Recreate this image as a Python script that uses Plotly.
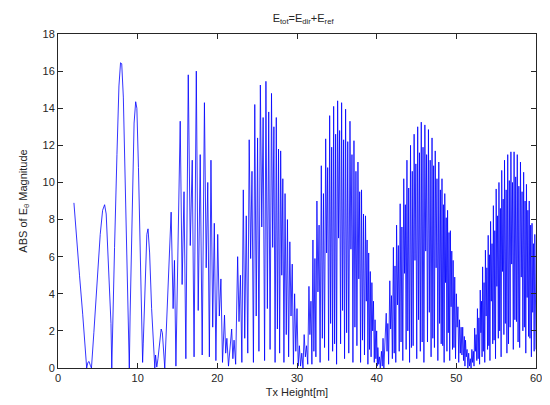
import plotly.graph_objects as go

# Lobe 1 (smooth region, 2 .. 13.4 m)
x_lobe1 = [2.0, 2.3, 2.7, 3.1, 3.4, 3.6, 3.75, 3.9, 4.05, 4.2, 4.5, 4.9, 5.3, 5.6, 5.85,
           6.05, 6.3, 6.5, 6.65, 6.75, 6.85, 7.1, 7.4, 7.65, 7.85, 8.0, 8.2, 8.45, 8.7,
           8.85, 8.95, 9.05, 9.3, 9.55, 9.75, 9.9, 10.1, 10.35, 10.55, 10.62, 10.7, 10.9,
           11.15, 11.3, 11.5, 11.75, 12.0, 12.15, 12.25, 12.4, 12.55, 12.75, 12.95, 13.1,
           13.25, 13.4]
y_lobe1 = [8.9, 7.0, 5.0, 2.9, 1.2, 0.0, 0.3, 0.35, 0.15, 0.0, 1.9, 4.8, 7.2, 8.5, 8.8,
           8.3, 6.0, 3.6, 2.4, 0.0, 2.4, 6.5, 11.5, 15.2, 16.45, 16.4, 14.6, 9.8, 4.0,
           0.5, 0.0, 2.8, 8.5, 13.2, 14.35, 14.0, 10.8, 5.5, 1.3, 0.3, 1.3, 4.5,
           7.2, 7.5, 6.2, 3.2, 0.6, 0.0, 0.7, 0.05, 0.5, 1.4, 2.1, 1.9,
           0.9, 0.0]

# Lobe 2
x_lobe2 = [14.2, 14.45, 14.62, 14.8, 15.34, 15.58, 15.82, 16.05, 16.35, 16.6, 16.85, 17.08,
           17.36, 17.6, 17.85, 18.1, 18.38, 18.6, 18.8, 19.0, 19.2, 19.42, 19.62, 19.82,
           20.05, 20.25, 20.45, 20.65, 20.9, 21.05, 21.2, 21.4, 21.8, 21.95, 22.1, 22.3]
y_lobe2 = [8.4, 3.2, 5.8, 0.1, 13.3, 4.5, 9.5, 0.5, 15.8, 6.6, 11.2, 0.6,
           16.0, 3.1, 11.5, 0.7, 14.3, 5.4, 10.0, 0.6, 11.2, 2.2, 7.8, 0.4,
           7.2, 2.8, 4.8, 0.3, 2.85, 0.8, 1.6, 0.1, 2.1, 0.5, 1.5, 0.2]

# Lobe 3
x_lobe3 = [22.55, 22.72, 22.9, 23.08, 23.26, 23.44, 23.63, 23.82, 24.0, 24.18, 24.35, 24.53,
           24.7, 24.88, 25.05, 25.22, 25.4, 25.58, 25.75, 25.93, 26.1, 26.28, 26.45, 26.62,
           26.8, 26.95, 27.1, 27.25, 27.4, 27.54, 27.68, 27.82, 27.95, 28.09, 28.22, 28.36,
           28.5, 28.65, 28.8, 28.95, 29.1, 29.25, 29.4, 29.55, 29.7, 29.85, 30.0, 30.15,
           30.3, 30.45, 30.6, 30.75, 30.9, 31.05, 31.2, 31.35]
y_lobe3 = [6.0, 2.5, 5.0, 0.3, 9.6, 1.6, 8.2, 0.8, 12.3, 5.9, 10.6, 0.3,
           14.2, 2.8, 12.4, 0.9, 15.25, 7.6, 13.5, 0.4, 15.45, 3.2, 13.8, 1.0,
           14.8, 6.5, 13.0, 0.3, 13.5, 2.1, 11.8, 0.8, 11.7, 5.0, 10.2, 0.3,
           9.4, 1.8, 8.0, 0.6, 6.8, 2.8, 5.6, 0.2, 4.0, 0.9, 3.2, 0.1,
           1.2, 0.1, 0.8, 0.0, 1.8, 0.6, 1.2, 0.2]

# Lobe 4
x_lobe4 = [31.5, 31.62, 31.75, 31.87, 32.0, 32.12, 32.25, 32.37, 32.5, 32.63, 32.77, 32.9,
           33.05, 33.18, 33.32, 33.46, 33.6, 33.72, 33.85, 33.97, 34.1, 34.22, 34.35, 34.47,
           34.6, 34.72, 34.85, 34.97, 35.1, 35.22, 35.35, 35.47, 35.6, 35.72, 35.85, 35.97,
           36.1, 36.23, 36.37, 36.5, 36.65, 36.77, 36.9, 37.02, 37.15, 37.27, 37.4, 37.52,
           37.65, 37.76, 37.87, 37.98, 38.1, 38.22, 38.35, 38.47, 38.6, 38.7, 38.8, 38.9,
           39.0, 39.1, 39.2, 39.3, 39.4, 39.5, 39.6, 39.7, 39.8, 39.9, 40.0, 40.08,
           40.15, 40.25, 40.35, 40.45, 40.6, 40.7, 40.8, 40.9]
y_lobe4 = [4.4, 1.8, 3.6, 0.2, 6.9, 0.9, 5.9, 0.6, 9.0, 4.1, 7.7, 0.3,
           10.9, 1.6, 9.4, 1.1, 12.35, 6.2, 10.8, 0.4, 13.6, 2.4, 11.9, 0.9,
           14.1, 1.3, 12.6, 0.2, 14.4, 7.0, 12.8, 1.3, 14.3, 3.1, 12.3, 0.5,
           13.95, 1.9, 12.2, 0.8, 13.3, 6.4, 11.5, 0.3, 12.25, 2.2, 10.6, 1.2,
           11.1, 4.8, 9.5, 0.3, 9.6, 1.5, 8.3, 0.7, 8.2, 3.6, 6.9, 0.2,
           6.2, 1.0, 5.2, 0.6, 4.6, 2.0, 3.6, 0.3, 2.6, 0.5, 2.0, 0.1,
           1.1, 0.2, 0.6, 0.0, 0.9, 0.1, 1.6, 0.0]

# Lobe 5
x_lobe5 = [41.2, 41.3, 41.4, 41.5, 41.65, 41.75, 41.86, 41.97, 42.1, 42.2, 42.3, 42.4,
           42.5, 42.61, 42.72, 42.83, 42.95, 43.06, 43.17, 43.28, 43.4, 43.5, 43.6, 43.7,
           43.8, 43.91, 44.02, 44.13, 44.25, 44.36, 44.47, 44.58, 44.7, 44.81, 44.92, 45.03,
           45.15, 45.26, 45.37, 45.48, 45.6, 45.71, 45.82, 45.93, 46.05, 46.16, 46.27, 46.38,
           46.5, 46.61, 46.72, 46.83, 46.95, 47.05, 47.15, 47.25, 47.35, 47.46, 47.57, 47.68,
           47.8, 47.9, 48.0, 48.1, 48.2, 48.29, 48.38, 48.47, 48.55, 48.64, 48.73, 48.82,
           48.9, 48.99, 49.08, 49.17, 49.25, 49.34, 49.43, 49.52, 49.6, 49.7, 49.8, 49.9,
           50.0, 50.1, 50.2, 50.3, 50.4, 50.5, 50.6, 50.7, 50.8, 50.9, 51.0, 51.08,
           51.15, 51.25, 51.35, 51.45, 51.55, 51.65, 51.75, 51.85]
y_lobe5 = [2.95, 0.9, 2.4, 0.2, 4.7, 2.1, 3.9, 0.5, 6.5, 0.8, 5.5, 0.3,
           7.7, 3.4, 6.6, 0.9, 8.85, 1.4, 7.6, 0.4, 10.2, 5.1, 8.8, 1.0,
           11.2, 2.0, 9.7, 0.3, 12.0, 1.1, 10.6, 1.2, 12.6, 5.8, 11.0, 0.5,
           13.0, 2.6, 11.6, 0.9, 13.25, 1.4, 11.9, 0.3, 13.1, 6.3, 11.5, 1.4,
           12.85, 3.0, 11.2, 0.6, 12.4, 1.6, 10.9, 1.1, 11.7, 5.4, 10.2, 0.4,
           11.1, 2.4, 9.6, 1.3, 10.2, 1.2, 8.8, 0.3, 9.4, 4.6, 8.1, 0.9,
           8.5, 1.9, 7.3, 0.4, 7.4, 3.3, 6.3, 1.0, 5.8, 1.1, 4.9, 0.5,
           4.0, 2.2, 3.3, 0.3, 2.6, 0.8, 2.2, 0.7, 2.2, 0.4, 1.7, 0.1,
           1.5, 0.6, 1.0, 0.0, 0.8, 0.1, 0.5, 0.0]

# Lobe 6
x_lobe6 = [51.95, 52.04, 52.13, 52.22, 52.3, 52.39, 52.48, 52.57, 52.65, 52.74, 52.83, 52.92,
           53.0, 53.08, 53.16, 53.23, 53.3, 53.39, 53.48, 53.57, 53.65, 53.74, 53.83, 53.92,
           54.0, 54.08, 54.15, 54.22, 54.3, 54.39, 54.48, 54.57, 54.65, 54.74, 54.83, 54.92,
           55.0, 55.09, 55.18, 55.27, 55.35, 55.44, 55.53, 55.62, 55.7, 55.79, 55.88, 55.97,
           56.05, 56.15, 56.25, 56.35, 56.45, 56.55, 56.65, 56.75, 56.85, 56.95, 57.05, 57.15,
           57.25, 57.35, 57.45, 57.55, 57.65, 57.75, 57.85, 57.95, 58.05, 58.15, 58.25, 58.35,
           58.45, 58.54, 58.63, 58.72, 58.8, 58.89, 58.98, 59.07, 59.15, 59.24, 59.33, 59.42,
           59.5, 59.59, 59.68, 59.77, 59.85, 60.0]
y_lobe6 = [1.0, 0.3, 0.9, 0.1, 2.15, 0.9, 1.8, 0.4, 3.2, 0.5, 2.7, 0.2,
           4.2, 1.9, 3.6, 0.6, 5.45, 0.9, 4.6, 0.3, 6.35, 2.8, 5.4, 1.0,
           7.15, 1.2, 6.1, 0.4, 7.9, 3.6, 6.7, 1.3, 8.75, 1.5, 7.4, 0.5,
           9.65, 4.4, 8.2, 1.6, 10.0, 2.0, 8.6, 0.6, 10.65, 5.2, 9.1, 1.8,
           11.2, 2.4, 9.6, 0.8, 11.5, 1.3, 10.1, 2.2, 11.65, 5.6, 10.0, 1.0,
           11.65, 2.6, 10.3, 2.5, 11.5, 1.4, 9.8, 1.1, 11.1, 4.9, 9.5, 2.0,
           10.55, 2.2, 9.0, 0.8, 9.9, 3.8, 8.5, 1.7, 9.0, 1.6, 7.7, 0.6,
           7.8, 3.0, 6.7, 0.9, 7.2, 1.0]

x_ticks = [0, 10, 20, 30, 40, 50, 60]
y_ticks = [0, 2, 4, 6, 8, 10, 12, 14, 16, 18]

tx_height = x_lobe1 + x_lobe2 + x_lobe3 + x_lobe4 + x_lobe5 + x_lobe6
e_abs = y_lobe1 + y_lobe2 + y_lobe3 + y_lobe4 + y_lobe5 + y_lobe6

fig = go.Figure()
fig.add_trace(go.Scatter(x=tx_height, y=e_abs, mode="lines",
                         line=dict(color="#0000ff", width=0.8), showlegend=False,
                         hoverinfo="skip"))

FONT = "Liberation Sans, Arial, sans-serif"
axis_common = dict(showline=True, linecolor="#262626", linewidth=1, mirror="ticks",
                   ticks="inside", ticklen=5, tickcolor="#262626", showgrid=False,
                   zeroline=False, tickfont=dict(family=FONT, size=11, color="#262626"))

# page has an 8px body margin, so the figure is sized/margined to compensate
fig.update_layout(
    width=542, height=397,
    paper_bgcolor="white", plot_bgcolor="white",
    margin=dict(l=50, r=8, t=26, b=37),
    title=dict(text="E<sub>tot</sub>=E<sub>dir</sub>+E<sub>ref</sub>",
               x=0.5445, xanchor="center", y=0.985, yanchor="top",
               font=dict(family=FONT, size=11, color="#262626")),
    xaxis=dict(range=[0, 60], tickvals=x_ticks,
               title=dict(text="Tx Height[m]", standoff=5,
                          font=dict(family=FONT, size=11, color="#262626")),
               **axis_common),
    yaxis=dict(range=[0, 18], tickvals=y_ticks,
               title=dict(text="ABS of E<sub>θ</sub> Magnitude", standoff=12,
                          font=dict(family=FONT, size=11, color="#262626")),
               **axis_common),
)

fig.write_html("out.html")
